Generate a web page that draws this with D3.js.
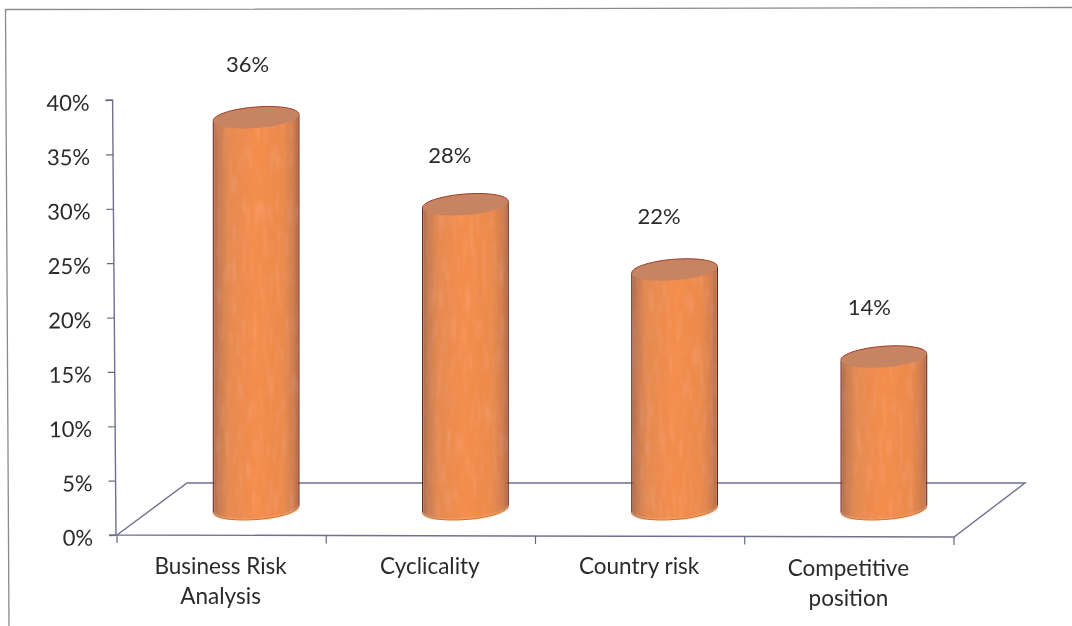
<!DOCTYPE html>
<html><head><meta charset="utf-8">
<script src="https://cdnjs.cloudflare.com/ajax/libs/d3/7.8.5/d3.min.js"></script>
<style>
html,body{margin:0;padding:0;background:#fff}
svg{display:block}
text{font-family:Lato,"Open Sans",sans-serif;fill:#2b2b2b}
</style></head><body>
<svg id="c" width="1072" height="626"></svg>
<script>
const categories = ["Business Risk|Analysis","Cyclicality","Country risk","Competitive|position"];
const values = [36,28,22,14];
const valueLabels = ["36%","28%","22%","14%"];
const yTicks = [0,5,10,15,20,25,30,35,40];

const svg = d3.select("#c");
const plotTop=100, plotBottom=535, frontLeft=117, frontRight=954;
const depthX=70, depthY=52;
const y = d3.scaleLinear().domain([0,40]).range([plotBottom,plotTop]);
const xFront = d3.scaleBand().domain(categories).range([frontLeft,frontRight]);
const xBar = d3.scaleBand().domain(categories).range([frontLeft+depthX/2,frontRight+depthX/2]);
const baseOffset = depthY/2;
const radiusX = 43;

const defs = svg.append("defs");
const grad = defs.append("linearGradient").attr("id","body").attr("x1",0).attr("x2",1).attr("y1",0).attr("y2",0);
[[0,"#a8603f"],[0.05,"#c47a52"],[0.18,"#e58a50"],[0.5,"#f48d4c"],[0.82,"#ea8a4c"],[0.95,"#cc7c50"],[1,"#a85c3c"]]
 .forEach(([o,c])=>grad.append("stop").attr("offset",o).attr("stop-color",c));
const f = defs.append("filter").attr("id","grain").attr("x","0").attr("y","0").attr("width","1").attr("height","1");
f.append("feTurbulence").attr("type","fractalNoise").attr("baseFrequency","0.3 0.035").attr("numOctaves",3).attr("seed",4).attr("result","n");
f.append("feColorMatrix").attr("in","n").attr("type","matrix")
 .attr("values","0.16 0 0 0 -0.08  0.16 0 0 0 -0.08  0.16 0 0 0 -0.08  0 0 0 0 1").attr("result","g");
f.append("feComposite").attr("in","SourceGraphic").attr("in2","g").attr("operator","arithmetic")
 .attr("k1",0).attr("k2",1).attr("k3",1).attr("k4",0).attr("result","m");
f.append("feComposite").attr("in","m").attr("in2","SourceAlpha").attr("operator","in").attr("result","c");
f.append("feGaussianBlur").attr("in","c").attr("stdDeviation",0.8);
const soft = defs.append("filter").attr("id","soft");
soft.append("feGaussianBlur").attr("stdDeviation",0.45);

const root = svg.append("g").attr("filter","url(#soft)");

root.append("path").attr("d",`M9 626 L5.5 9.5 L1072 7.5`).attr("fill","none").attr("stroke","#8a8a8a").attr("stroke-width",1.3);

const lineCol="#6f7190";
const floor = d3.path();
floor.moveTo(frontLeft,plotBottom);
floor.lineTo(frontLeft+depthX,plotBottom-depthY);
floor.lineTo(frontRight+depthX+1,plotBottom-depthY);
floor.lineTo(frontRight,plotBottom+2);
floor.closePath();
root.append("path").attr("d",floor.toString()).attr("fill","none").attr("stroke",lineCol).attr("stroke-width",1.4);

const xEdges = categories.map(c=>xFront(c)).concat([frontRight]);
root.append("g").selectAll("line").data(xEdges).join("line")
  .attr("x1",d=>d).attr("x2",d=>d)
  .attr("y1",(d,i)=>plotBottom+i*0.5).attr("y2",(d,i)=>plotBottom+8+i*0.5)
  .attr("stroke","#66687f").attr("stroke-width",1.2);

const yAxis = d3.axisLeft(y).tickValues(yTicks).tickFormat(d=>d+"%").tickSize(7).tickPadding(16);
const ax = root.append("g").attr("transform",`rotate(-0.45 116 ${plotBottom}) translate(116,0)`).call(yAxis);
ax.select(".domain").attr("stroke",lineCol).attr("stroke-width",1.4).attr("d",`M-7,${plotTop}H0V${plotBottom}H-7`);
ax.selectAll(".tick line").attr("stroke","#66687f").attr("stroke-width",1.2);
ax.selectAll(".tick text").attr("font-size",22).attr("dy","0.45em").attr("font-family",'Lato,"Open Sans",sans-serif').attr("fill","#2b2b2b");

const tilt = -4.5*Math.PI/180;
const ang = d3.range(0,41).map(k=>k/40*Math.PI);
function halfEllipse(cx,cy,rx,ry,lower){
  return ang.map(a=>{
    const ex = -rx*Math.cos(a), ey = (lower?1:-1)*ry*Math.sin(a);
    return [cx+ex*Math.cos(tilt)-ey*Math.sin(tilt), cy+ex*Math.sin(tilt)+ey*Math.cos(tilt)];
  });
}
const line = d3.line();

const labelNudge = [-4,0,-4,0];
const labelShift = [26,19,19,20];
const catNudge = [0,0,0,2];
categories.forEach((c,i)=>{
  const cx = xBar(c)+xBar.bandwidth()/2 - 0.5;
  const top = y(values[i]) - baseOffset;
  const base = plotBottom - baseOffset;
  const rx = radiusX, ry = 10.5;
  const bottomPts = halfEllipse(cx,base,rx,ry,true);
  const topPts = halfEllipse(cx,top,rx,ry,false);
  const lowerTop = halfEllipse(cx,top,rx,ry,true);
  const g = root.append("g");
  const L0=topPts[0], R0=topPts[40], L1=bottomPts[0], R1=bottomPts[40];
  g.append("path").attr("d",line([L0,...bottomPts,R0])+"Z")
    .attr("fill","url(#body)").attr("filter","url(#grain)");
  g.append("path").attr("d",line([L0,L1])).attr("stroke","#6e2418").attr("stroke-width",1).attr("fill","none");
  g.append("path").attr("d",line([R0,R1])).attr("stroke","#6e2418").attr("stroke-width",1).attr("fill","none");
  g.append("path").attr("d",line(bottomPts)).attr("stroke","#d9690f").attr("stroke-width",1).attr("fill","none");
  g.append("path").attr("d",line([...topPts,...lowerTop.slice().reverse()])+"Z").attr("fill","#c68463");
  g.append("path").attr("d",line(topPts)).attr("fill","none").attr("stroke","#9c3a2a").attr("stroke-width",1);

  root.append("text").attr("x",xFront(c)+xFront.bandwidth()/2+labelShift[i])
    .attr("y",y(values[i])-68+labelNudge[i])
    .attr("text-anchor","middle").attr("font-size",22).text(valueLabels[i]);
  const t = root.append("text").attr("text-anchor","middle").attr("font-size",22.5);
  c.split("|").forEach((s,k)=>t.append("tspan")
    .attr("x",xFront(c)+xFront.bandwidth()/2-1).attr("y",plotBottom+39+catNudge[i]+k*30).text(s));
});
</script>
</body></html>
